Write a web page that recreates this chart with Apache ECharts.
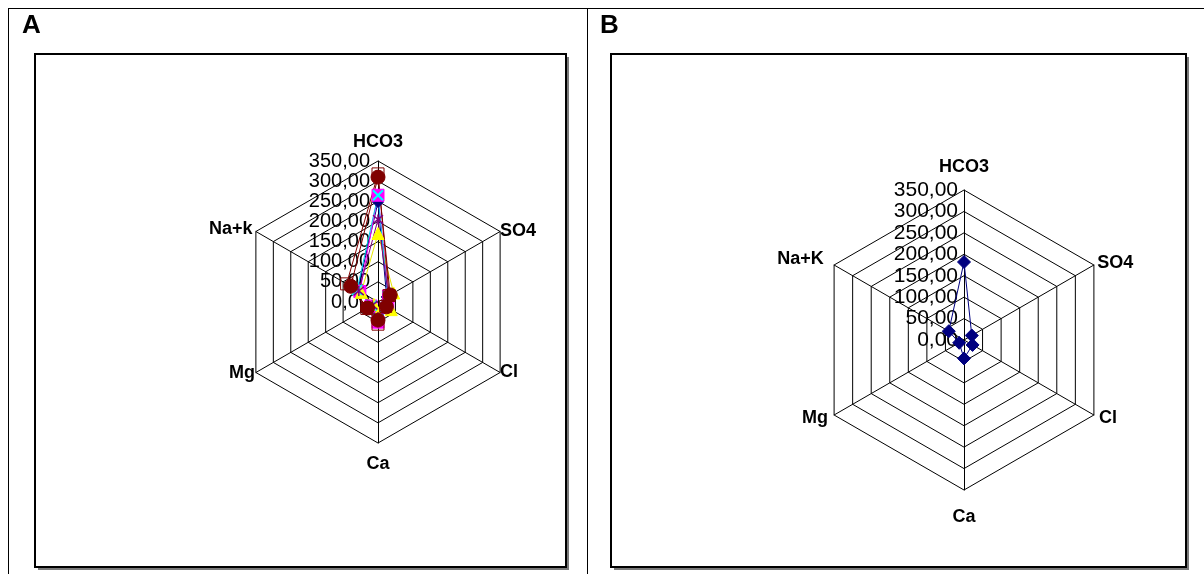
<!DOCTYPE html>
<html>
<head>
<meta charset="utf-8">
<style>
  html, body { margin: 0; padding: 0; background: #fff; }
  #chart { width: 1204px; height: 574px; }
</style>
<script src="https://cdn.jsdelivr.net/npm/echarts@6/dist/echarts.min.js"></script>
</head>
<body>
<div id="chart"></div>
<script>
// axes listed clockwise from the top, as in the picture
var axesA = ['HCO3', 'SO4', 'Cl', 'Ca', 'Mg', 'Na+k'];
var axesB = ['HCO3', 'SO4', 'Cl', 'Ca', 'Mg', 'Na+K'];
var maxValue = 350;
var ringCount = 7;

// panel A samples (same axis order)
var navyA     = [248, 25, 20, 32, 18, 58];
var magentaA  = [265, 30, 28, 50, 20, 52];
var yellowA   = [170, 45, 38, 30, 12, 48];
var cyanA     = [265, 28, 24, 42, 18, 60];
var purpleA   = [205, 30, 22, 38, 16, 55];
var darkRedA  = [310, 35, 24, 45, 30, 78];
var brownSqA  = [318, 32, 22, 55, 32, 90];

// panel B sample
var navyB = [182, 21, 23, 43, 13, 41];

// echarts lays indicators out counter-clockwise, so flip the order
function ccw(arr) {
  return [arr[0], arr[5], arr[4], arr[3], arr[2], arr[1]];
}

function fmt(v) {
  return v.toFixed(2).replace('.', ',');
}

// gaps given clockwise from the top, like the names
function indicators(names, gaps) {
  var g = ccw(gaps);
  return ccw(names).map(function(n, i) {
    return {
      name: n,
      min: 0,
      max: maxValue,
      nameGap: g[i],
      axisLabel: { show: i === 0 }
    };
  });
}

var FONT = 'Liberation Sans, Arial, sans-serif';

function radarOpt(names, center, radius, gaps, labelSize, margin) {
  return {
    center: center,
    radius: radius,
    shape: 'polygon',
    splitNumber: ringCount,
    startAngle: 90,
    indicator: indicators(names, gaps),
    axisName: {
      color: '#000',
      fontWeight: 'bold',
      fontSize: 18,
      fontFamily: FONT
    },
    axisLine: { lineStyle: { color: '#000', width: 1 } },
    splitLine: { lineStyle: { color: '#000', width: 1 } },
    splitArea: { show: false },
    axisTick: { show: false },
    axisLabel: {
      show: false,
      color: '#000',
      fontSize: labelSize,
      fontFamily: FONT,
      margin: margin,
      formatter: function(v) { return fmt(v); }
    }
  };
}

var xPath = 'path://M0,0L10,10M10,0L0,10';
var starPath = 'path://M0,0L10,10M10,0L0,10M5,-1L5,11';
var boxPath = 'path://M0,0L10,0L10,10L0,10Z';

function line(radarIndex, name, values, color, symbol, size, extra) {
  var s = {
    type: 'radar',
    radarIndex: radarIndex,
    name: name,
    symbol: symbol,
    symbolSize: size,
    lineStyle: { color: color, width: 1 },
    itemStyle: { color: color, borderColor: color, borderWidth: 1 },
    data: [{ value: ccw(values), name: name }],
    silent: true,
    z: 2
  };
  if (extra) {
    s.itemStyle = Object.assign(s.itemStyle, extra);
  }
  return s;
}

function frame(x, y, w, h) {
  return [
    { type: 'rect', shape: { x: x + 3, y: y + 3, width: w, height: h },
      style: { fill: '#7a7a7a' }, z: -2 },
    { type: 'rect', shape: { x: x, y: y, width: w, height: h },
      style: { fill: '#fff', stroke: '#000', lineWidth: 2 }, z: -1 }
  ];
}

var chart = echarts.init(document.getElementById('chart'));
chart.setOption({
  backgroundColor: '#fff',
  animation: false,
  graphic: [
    { type: 'line', shape: { x1: 8, y1: 8.5, x2: 1204, y2: 8.5 }, style: { stroke: '#000', lineWidth: 1 } },
    { type: 'line', shape: { x1: 8.5, y1: 8, x2: 8.5, y2: 574 }, style: { stroke: '#000', lineWidth: 1 } },
    { type: 'line', shape: { x1: 587.5, y1: 8, x2: 587.5, y2: 574 }, style: { stroke: '#000', lineWidth: 1 } },
    { type: 'text', left: 22, top: 13, style: { text: 'A', font: 'bold 26px ' + FONT, fill: '#000' } },
    { type: 'text', left: 600, top: 13, style: { text: 'B', font: 'bold 26px ' + FONT, fill: '#000' } }
  ].concat(frame(35, 54, 531, 513)).concat(frame(611, 54, 575, 513)),
  radar: [
    radarOpt(axesA, [378, 302], 141, [6, 0, 0, 12, 1, 4], 20, 8),
    radarOpt(axesB, [964, 340], 150, [14, 4, 6, 18, 7, 12], 21, 6)
  ],
  series: [
    line(0, 'navy', navyA, '#000080', 'diamond', 11),
    line(0, 'magenta', magentaA, '#ff00ff', 'rect', 12),
    line(0, 'yellow', yellowA, '#e8e800', 'triangle', 12, { color: '#ffff00', borderColor: '#ffff00' }),
    line(0, 'cyan', cyanA, '#00c8e8', xPath, 10, { color: '#00ffff', borderColor: '#00ffff', borderWidth: 2 }),
    line(0, 'purple', purpleA, '#800080', starPath, 10, { borderWidth: 1.5 }),
    line(0, 'brown', brownSqA, '#800000', boxPath, 12, { color: 'transparent' }),
    line(0, 'darkred', darkRedA, '#800000', 'circle', 14),
    line(1, 'B', navyB, '#000080', 'diamond', 13)
  ]
});
</script>
</body>
</html>
